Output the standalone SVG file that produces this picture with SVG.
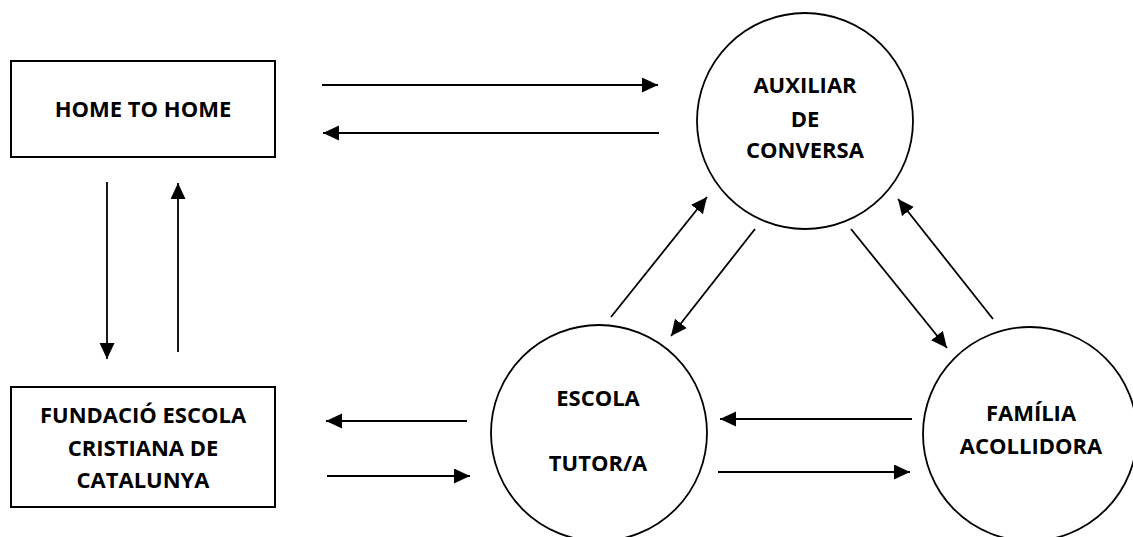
<svg xmlns="http://www.w3.org/2000/svg" width="1133" height="537" viewBox="0 0 1133 537">
<defs>
<style>
.box{fill:#fff;stroke:#000;stroke-width:2}
.circ{fill:#fff;stroke:#000;stroke-width:1.8}
.lbl{font-family:"Open Sans","Liberation Sans",sans-serif;font-weight:bold;font-size:22px;fill:#000;text-anchor:middle}
.arr{stroke:#000;stroke-width:1.8;fill:none;marker-end:url(#ah)}
</style>
<marker id="ah" markerUnits="userSpaceOnUse" markerWidth="17" markerHeight="16" refX="16" refY="7.5" orient="auto">
<path d="M0,0 L16,7.5 L0,15 z" fill="#000"/>
</marker>
</defs>
<rect width="1133" height="537" fill="#fff"/>
<g id="home-to-home">
<rect class="box" x="11" y="61" width="264" height="96"/>
<text class="lbl" x="143" y="117">HOME TO HOME</text>
</g>
<g id="fundacio">
<rect class="box" x="11" y="387" width="264" height="120"/>
<text class="lbl" x="143" y="423">FUNDACIÓ ESCOLA</text>
<text class="lbl" x="143" y="456">CRISTIANA DE</text>
<text class="lbl" x="143" y="488">CATALUNYA</text>
</g>
<g id="auxiliar">
<circle class="circ" cx="805" cy="121" r="108"/>
<text class="lbl" x="805" y="93">AUXILIAR</text>
<text class="lbl" x="805" y="127">DE</text>
<text class="lbl" x="805" y="158">CONVERSA</text>
</g>
<g id="escola">
<circle class="circ" cx="599" cy="433" r="108"/>
<text class="lbl" x="598" y="406">ESCOLA</text>
<text class="lbl" x="598" y="471">TUTOR/A</text>
</g>
<g id="familia">
<circle class="circ" cx="1030" cy="434" r="107"/>
<text class="lbl" x="1031" y="421">FAMÍLIA</text>
<text class="lbl" x="1031" y="454">ACOLLIDORA</text>
</g>
<g id="connectors">
<line class="arr" x1="322" y1="85" x2="658" y2="85"/>
<line class="arr" x1="659" y1="133" x2="323" y2="133"/>
<line class="arr" x1="107" y1="182" x2="107" y2="359"/>
<line class="arr" x1="178" y1="352" x2="178" y2="183"/>
<line class="arr" x1="467" y1="421" x2="326" y2="421"/>
<line class="arr" x1="327" y1="476" x2="470" y2="476"/>
<line class="arr" x1="912" y1="419" x2="720" y2="419"/>
<line class="arr" x1="718" y1="472" x2="910" y2="472"/>
<line class="arr" x1="611" y1="317" x2="707" y2="197"/>
<line class="arr" x1="755" y1="229" x2="671" y2="336"/>
<line class="arr" x1="851" y1="229" x2="947" y2="348"/>
<line class="arr" x1="993" y1="319" x2="898" y2="199"/>
</g>
</svg>
